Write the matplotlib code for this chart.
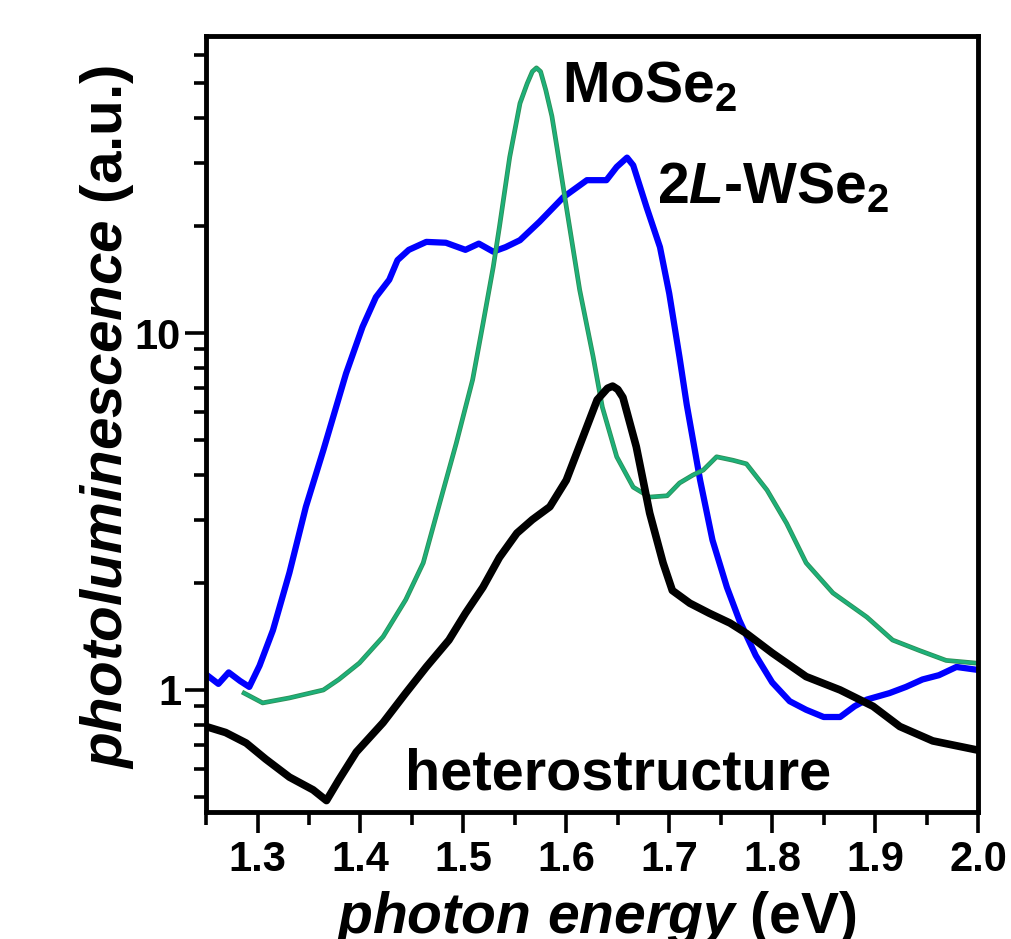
# photoluminescence spectra of MoSe2, 2L-WSe2 and the heterostructure (log scale)
import matplotlib
matplotlib.use('Agg')
import matplotlib.pyplot as plt
import matplotlib.patheffects as pe
from matplotlib.ticker import MultipleLocator, LogLocator, NullFormatter, FixedLocator, FixedFormatter

plt.rcParams['font.family'] = ['Liberation Sans', 'DejaVu Sans']
plt.rcParams['font.weight'] = 'bold'
plt.rcParams['mathtext.fontset'] = 'custom'
plt.rcParams['mathtext.rm'] = 'Liberation Sans:bold'
plt.rcParams['mathtext.it'] = 'Liberation Sans:italic:bold'
plt.rcParams['mathtext.bf'] = 'Liberation Sans:bold'
plt.rcParams['mathtext.default'] = 'rm'

# 2L-WSe2 (blue)
wse2_E = [1.251, 1.262, 1.272, 1.283, 1.292, 1.302, 1.315, 1.331, 1.347, 1.364,
          1.386, 1.402, 1.415, 1.428, 1.436, 1.447, 1.464, 1.483, 1.502, 1.515,
          1.529, 1.541, 1.555, 1.574, 1.597, 1.620, 1.639, 1.649, 1.659, 1.665,
          1.678, 1.691, 1.700, 1.710, 1.717, 1.730, 1.742, 1.756, 1.768, 1.784,
          1.800, 1.817, 1.833, 1.850, 1.866, 1.880, 1.892, 1.914, 1.930, 1.946,
          1.962, 1.979, 1.998]
wse2_PL = [1.10, 1.04, 1.12, 1.06, 1.02, 1.17, 1.47, 2.13, 3.26, 4.7,
           7.7, 10.4, 12.6, 14.1, 16.0, 17.1, 18.0, 17.9, 17.1, 17.8,
           16.9, 17.4, 18.2, 20.5, 24.0, 26.8, 26.8, 29.2, 31.0, 29.5,
           22.5, 17.4, 12.9, 8.55, 6.3, 3.87, 2.63, 1.94, 1.57, 1.25,
           1.05, 0.93, 0.88, 0.84, 0.84, 0.90, 0.94, 0.98, 1.02, 1.07,
           1.10, 1.16, 1.14]

# MoSe2 (green)
mose2_E = [1.287, 1.305, 1.331, 1.364, 1.379, 1.399, 1.422, 1.444, 1.461, 1.476,
           1.493, 1.509, 1.519, 1.529, 1.535, 1.545, 1.555, 1.562, 1.567, 1.571,
           1.575, 1.580, 1.586, 1.591, 1.600, 1.613, 1.626, 1.635, 1.649, 1.665,
           1.681, 1.698, 1.710, 1.723, 1.733, 1.746, 1.762, 1.775, 1.795, 1.814,
           1.833, 1.859, 1.892, 1.917, 1.943, 1.969, 1.997]
mose2_PL = [0.98, 0.92, 0.95, 1.00, 1.07, 1.19, 1.41, 1.79, 2.27, 3.26,
            4.9, 7.4, 10.6, 15.3, 19.8, 31.1, 44.0, 50.0, 54.0, 55.3,
            54.0, 48.0, 40.5, 33.0, 22.6, 13.2, 8.6, 6.2, 4.5, 3.7,
            3.47, 3.5, 3.8, 4.0, 4.13, 4.5, 4.4, 4.3, 3.63, 2.93,
            2.27, 1.87, 1.6, 1.38, 1.29, 1.21, 1.19]

# heterostructure (black)
het_E = [1.250, 1.269, 1.289, 1.308, 1.331, 1.354, 1.367, 1.379, 1.396, 1.422,
         1.444, 1.464, 1.486, 1.502, 1.519, 1.535, 1.552, 1.567, 1.584, 1.600,
         1.616, 1.630, 1.640, 1.645, 1.650, 1.655, 1.668, 1.681, 1.694, 1.703,
         1.720, 1.739, 1.759, 1.775, 1.800, 1.833, 1.866, 1.898, 1.924, 1.956,
         1.998]
het_PL = [0.79, 0.76, 0.71, 0.64, 0.57, 0.525, 0.49, 0.56, 0.67, 0.81,
          0.98, 1.16, 1.38, 1.64, 1.94, 2.35, 2.75, 3.0, 3.26, 3.87,
          5.1, 6.5, 7.0, 7.1, 6.95, 6.6, 4.8, 3.13, 2.27, 1.9,
          1.75, 1.64, 1.54, 1.44, 1.27, 1.09, 1.0, 0.9, 0.79, 0.72,
          0.68]

xticks = [1.3, 1.4, 1.5, 1.6, 1.7, 1.8, 1.9, 2.0]
xticklabels = ['1.3', '1.4', '1.5', '1.6', '1.7', '1.8', '1.9', '2.0']
yticks = [1, 10]
yticklabels = ['1', '10']

fig = plt.figure(figsize=(10.11, 9.39), dpi=100)
ax = fig.add_axes([0.2038, 0.1352, 0.7636, 0.8264])

ax.plot(wse2_E, wse2_PL, color='#0000ff', lw=4.5, solid_joinstyle='round')
ax.plot(mose2_E, mose2_PL, color='#1db07a', lw=2.2, solid_joinstyle='round',
        path_effects=[pe.Stroke(linewidth=3.4, foreground='#2f8f55'), pe.Normal()])
ax.plot(het_E, het_PL, color='k', lw=5.5, solid_joinstyle='round')

ax.set_yscale('log')
ax.set_xlim(1.25, 2.0)
ax.set_ylim(0.455, 67.9)

ax.xaxis.set_major_locator(FixedLocator(xticks))
ax.xaxis.set_major_formatter(FixedFormatter(xticklabels))
ax.xaxis.set_minor_locator(MultipleLocator(0.05))
ax.yaxis.set_major_locator(FixedLocator(yticks))
ax.yaxis.set_major_formatter(FixedFormatter(yticklabels))
ax.yaxis.set_minor_locator(LogLocator(base=10, subs=[2, 3, 4, 5, 6, 7, 8, 9]))
ax.yaxis.set_minor_formatter(NullFormatter())

for s in ax.spines.values():
    s.set_linewidth(3.5)
ax.tick_params(which='major', direction='out', length=15, width=2.6, labelsize=30, pad=5)
ax.tick_params(which='minor', direction='out', length=9, width=2.6)
ax.tick_params(axis='y', which='major', pad=3)

# curve labels
ax.text(1.5956, 44.4, 'MoSe$_2$', fontsize=41, va='baseline', ha='left')
ax.text(1.6879, 23.1, r'2$\mathit{L}$-WSe$_2$', fontsize=41, va='baseline', ha='left')
ax.text(1.4432, 0.525, 'heterostructure', fontsize=41.5, va='baseline', ha='left')

# axis labels
fig.text(0.5895, 1 - 933 / 939, r'$\mathit{photon\ energy}$ (eV)', fontsize=41,
         ha='center', va='baseline')
fig.text(78 / 1011, 1 - 417 / 939, r'$\mathit{photoluminescence}$ (a.u.)', fontsize=42,
         rotation=90, ha='left', va='center')

fig.savefig('out.png', dpi=100)
